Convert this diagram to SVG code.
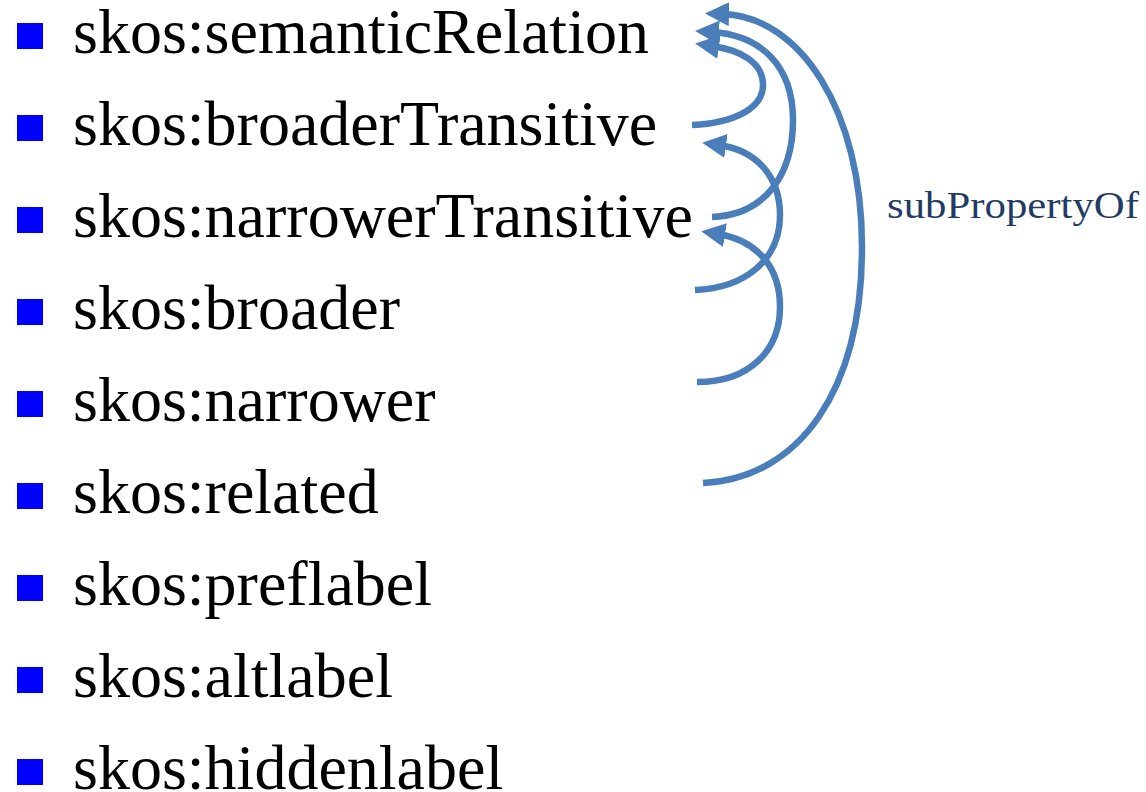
<svg xmlns="http://www.w3.org/2000/svg" width="1146" height="792" viewBox="0 0 1146 792">
<style>
.item{font-family:"Liberation Serif","Times New Roman",serif;font-size:64px;fill:#000}
.bullet{fill:#0000FF}
.arc{fill:none;stroke:#4A7EBB;stroke-width:6.5}
.lbl{font-family:"Liberation Serif","Times New Roman",serif;font-size:37px;fill:#1F3B66}
</style>
<defs>
<marker id="ah" markerUnits="userSpaceOnUse" viewBox="0 0 24 24" markerWidth="24" markerHeight="24" refX="7" refY="12" orient="auto">
<path d="M0,0 L24,12 L0,24 Z" fill="#4A7EBB"/>
</marker>
</defs>
<rect width="1146" height="792" fill="#fff"/>
<g id="n1"><rect class="bullet" x="17" y="23" width="26" height="26"/><text class="item" x="73" y="53">skos:semanticRelation</text></g>
<g id="n2"><rect class="bullet" x="17" y="115" width="26" height="26"/><text class="item" x="73" y="145">skos:broaderTransitive</text></g>
<g id="n3"><rect class="bullet" x="17" y="207" width="26" height="26"/><text class="item" x="73" y="237">skos:narrowerTransitive</text></g>
<g id="n4"><rect class="bullet" x="17" y="299" width="26" height="26"/><text class="item" x="73" y="329">skos:broader</text></g>
<g id="n5"><rect class="bullet" x="17" y="391" width="26" height="26"/><text class="item" x="73" y="421">skos:narrower</text></g>
<g id="n6"><rect class="bullet" x="17" y="483" width="26" height="26"/><text class="item" x="73" y="513">skos:related</text></g>
<g id="n7"><rect class="bullet" x="17" y="575" width="26" height="26"/><text class="item" x="73" y="605">skos:preflabel</text></g>
<g id="n8"><rect class="bullet" x="17" y="667" width="26" height="26"/><text class="item" x="73" y="697">skos:altlabel</text></g>
<g id="n9"><rect class="bullet" x="17" y="759" width="26" height="26"/><text class="item" x="73" y="789">skos:hiddenlabel</text></g>
<g id="connectors">
<path class="arc" marker-end="url(#ah)" d="M703,483 C800,478 862,390 862,247 C862,110 800,16 722,14"/>
<path class="arc" marker-end="url(#ah)" d="M712,217 C765,215 793,175 793,120 C793,65 760,35 712,32"/>
<path class="arc" marker-end="url(#ah)" d="M692,125 C735,123 763,108 763,85 C763,62 740,50 712,46"/>
<path class="arc" marker-end="url(#ah)" d="M695,290 C745,288 780,260 780,215 C780,175 755,150 719,145"/>
<path class="arc" marker-end="url(#ah)" d="M697,382 C750,382 780,350 780,307 C780,265 755,240 718,234"/>
</g>
<g id="label"><text class="lbl" x="887" y="218" textLength="252" lengthAdjust="spacingAndGlyphs">subPropertyOf</text></g>
</svg>
